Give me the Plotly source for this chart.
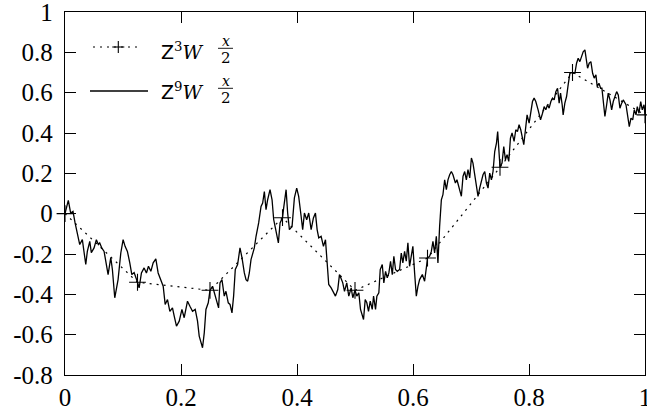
import plotly.graph_objects as go

# ---- data ----
coarse_x = [0, 0.125, 0.25, 0.375, 0.5, 0.625, 0.75, 0.875, 1.0]
coarse_y = [0, -0.34, -0.38, -0.02, -0.38, -0.22, 0.23, 0.70, 0.49]

fine_x = [
    0, 0.0057, 0.0098, 0.0138, 0.0173, 0.0212, 0.0254, 0.0299, 0.0328, 0.0358,
    0.0385, 0.0427, 0.0454, 0.0501, 0.0541, 0.0575, 0.0599, 0.0634, 0.0674, 0.0703,
    0.0743, 0.0789, 0.0817, 0.0858, 0.0915, 0.0962, 0.1002, 0.1036, 0.1076, 0.1117,
    0.1152, 0.1192, 0.1231, 0.125,
    0.1278, 0.1318, 0.1364, 0.1404, 0.1439, 0.1480, 0.1520, 0.1566, 0.1606, 0.1653,
    0.1693, 0.1727, 0.1767, 0.1808, 0.1853, 0.1883, 0.1922, 0.1969, 0.2016, 0.2055,
    0.2112, 0.2154, 0.2199, 0.2245, 0.2285, 0.2314, 0.2344, 0.2371, 0.2401, 0.2430,
    0.2470, 0.25,
    0.2544, 0.2591, 0.2648, 0.2672, 0.2706, 0.2746, 0.2775, 0.2815, 0.2845, 0.2879,
    0.2907, 0.2936, 0.2976, 0.3017, 0.3052, 0.3092, 0.3121, 0.3149, 0.3178, 0.3207,
    0.3235, 0.3264, 0.3294, 0.3339, 0.3380, 0.3408, 0.3437, 0.3466, 0.3494, 0.3535,
    0.3570, 0.3598, 0.3627, 0.3649, 0.3679, 0.3708, 0.375,
    0.3770, 0.3812, 0.3839, 0.3869, 0.3915, 0.3955, 0.3995, 0.4029, 0.4071, 0.4098,
    0.4128, 0.4167, 0.4202, 0.4244, 0.4283, 0.4318, 0.4347, 0.4375, 0.4416, 0.4456,
    0.4491, 0.4520, 0.4547, 0.4589, 0.4629, 0.4663, 0.4703, 0.4732, 0.4767, 0.4789,
    0.4819, 0.4858, 0.4893, 0.4934, 0.4962, 0.5,
    0.5031, 0.5066, 0.5095, 0.5124, 0.5147, 0.5176, 0.5204, 0.5233, 0.5263, 0.5297,
    0.5320, 0.5354, 0.5377, 0.5411, 0.5435, 0.5470, 0.5497, 0.5527, 0.5556, 0.5584,
    0.5613, 0.5643, 0.5670, 0.5699, 0.5729, 0.5769, 0.5798, 0.5825, 0.5855, 0.5884,
    0.5912, 0.5941, 0.5971, 0.5998, 0.6028, 0.6057, 0.6085, 0.6114, 0.6161, 0.6200,
    0.6230, 0.625,
    0.6287, 0.6316, 0.6344, 0.6373, 0.6402, 0.6430, 0.6459, 0.6489, 0.6516, 0.6546,
    0.6575, 0.6603, 0.6632, 0.6661, 0.6689, 0.6731, 0.6758, 0.6793, 0.6834, 0.6862,
    0.6891, 0.6920, 0.6948, 0.6978, 0.7007, 0.7034, 0.7064, 0.7093, 0.7121, 0.7150,
    0.7180, 0.7207, 0.7237, 0.7266, 0.7294, 0.7323, 0.7352, 0.7380, 0.7409, 0.7439,
    0.7460, 0.7480, 0.75,
    0.7535, 0.7565, 0.7594, 0.7622, 0.7651, 0.7680, 0.7708, 0.7743, 0.7772, 0.7801,
    0.7829, 0.7858, 0.7910, 0.7945, 0.7967, 0.8002, 0.8031, 0.8060, 0.8088, 0.8117,
    0.8157, 0.8199, 0.8233, 0.8261, 0.8290, 0.8320, 0.8347, 0.8377, 0.8406, 0.8434,
    0.8463, 0.8492, 0.8520, 0.8544, 0.8572, 0.8589, 0.8618, 0.8648, 0.8675, 0.8705,
    0.875,
    0.8791, 0.8820, 0.8848, 0.8877, 0.8907, 0.8934, 0.8964, 0.8981, 0.9010, 0.9038,
    0.9067, 0.9097, 0.9124, 0.9154, 0.9176, 0.9206, 0.9235, 0.9257, 0.9280, 0.9309,
    0.9339, 0.9366, 0.9396, 0.9425, 0.9453, 0.9482, 0.9511, 0.9539, 0.9568, 0.9598,
    0.9625, 0.9672, 0.9701, 0.9729, 0.9758, 0.9788, 0.9815, 0.9845, 0.9867, 0.9896,
    0.9926, 0.9953, 0.9983, 1.0,
]
fine_y = [
    0, 0.066, 0.003, 0.011, -0.045, -0.094, -0.153, -0.129, -0.187, -0.252,
    -0.187, -0.137, -0.193, -0.170, -0.129, -0.153, -0.145, -0.170, -0.187, -0.228,
    -0.302, -0.218, -0.277, -0.417, -0.327, -0.195, -0.129, -0.162, -0.187, -0.244,
    -0.302, -0.292, -0.318, -0.34,
    -0.368, -0.294, -0.269, -0.294, -0.261, -0.286, -0.244, -0.224, -0.294, -0.327,
    -0.360, -0.450, -0.426, -0.484, -0.467, -0.508, -0.558, -0.533, -0.475, -0.516,
    -0.434, -0.459, -0.484, -0.475, -0.533, -0.607, -0.632, -0.665, -0.591, -0.475,
    -0.442, -0.38,
    -0.360, -0.409, -0.467, -0.343, -0.327, -0.409, -0.385, -0.442, -0.450, -0.492,
    -0.409, -0.277, -0.252, -0.170, -0.219, -0.294, -0.327, -0.335, -0.294, -0.228,
    -0.195, -0.170, -0.112, -0.046, 0.036, 0.053, 0.110, 0.020, 0.069, 0.119,
    0.069, -0.029, -0.071, -0.096, -0.145, -0.046, -0.02,
    0.028, 0.119, 0.003, -0.079, -0.063, 0.078, 0.127, 0.086, -0.013, -0.079,
    0.003, -0.030, 0.003, -0.079, -0.021, 0.003, -0.079, -0.120, -0.112, -0.162,
    -0.129, -0.244, -0.351, -0.368, -0.393, -0.409, -0.376, -0.302, -0.327, -0.343,
    -0.385, -0.343, -0.409, -0.368, -0.417, -0.38,
    -0.409, -0.393, -0.475, -0.500, -0.525, -0.426, -0.442, -0.484, -0.434, -0.475,
    -0.409, -0.475, -0.409, -0.393, -0.277, -0.252, -0.343, -0.286, -0.318, -0.294,
    -0.236, -0.302, -0.211, -0.277, -0.286, -0.277, -0.195, -0.244, -0.187, -0.236,
    -0.145, -0.261, -0.195, -0.162, -0.294, -0.409, -0.360, -0.327, -0.302, -0.335,
    -0.269, -0.22,
    -0.211, -0.187, -0.137, -0.195, -0.112, -0.244, -0.063, 0.069, 0.094, 0.168,
    0.119, 0.168, 0.193, 0.209, 0.193, 0.152, 0.168, 0.127, 0.086, 0.185,
    0.209, 0.168, 0.218, 0.177, 0.276, 0.251, 0.193, 0.144, 0.086, 0.127,
    0.160, 0.193, 0.209, 0.152, 0.127, 0.201, 0.168, 0.209, 0.308, 0.350,
    0.407, 0.330, 0.23,
    0.251, 0.333, 0.267, 0.292, 0.259, 0.375, 0.400, 0.358, 0.416, 0.407,
    0.441, 0.416, 0.342, 0.416, 0.490, 0.449, 0.498, 0.556, 0.573, 0.556,
    0.515, 0.465, 0.498, 0.531, 0.515, 0.540, 0.523, 0.556, 0.573, 0.564,
    0.605, 0.622, 0.548, 0.598, 0.540, 0.490, 0.548, 0.581, 0.639, 0.696,
    0.70,
    0.696, 0.746, 0.771, 0.754, 0.787, 0.803, 0.812, 0.779, 0.721, 0.746,
    0.754, 0.696, 0.672, 0.688, 0.630, 0.647, 0.622, 0.622, 0.556, 0.482,
    0.540, 0.598, 0.564, 0.515, 0.556, 0.581, 0.605, 0.589, 0.523, 0.548,
    0.564, 0.540, 0.482, 0.432, 0.474, 0.465, 0.515, 0.490, 0.531, 0.498,
    0.556, 0.515, 0.540, 0.49,
]
assert len(fine_x) == len(fine_y)

x_ticks = [0, 0.2, 0.4, 0.6, 0.8, 1.0]
x_labels = ["0", "0.2", "0.4", "0.6", "0.8", "1"]
y_ticks = [-0.8, -0.6, -0.4, -0.2, 0, 0.2, 0.4, 0.6, 0.8, 1.0]
y_labels = ["-0.8", "-0.6", "-0.4", "-0.2", "0", "0.2", "0.4", "0.6", "0.8", "1"]

legend_names = ["3", "9"]

# ---- layout geometry (pixels) ----
W, H = 647, 412
L, R, T, B = 65, 2, 12, 37
PW, PH = W - L - R, H - T - B
def pxx(p):
    return (p - L) / PW
def pxy(p):
    return (H - B - p) / PH

TICKFONT = "Liberation Serif, serif"
SERIF = "DejaVu Serif, serif"
DOT = "2px,5px"

fig = go.Figure()
fig.add_trace(go.Scatter(
    x=coarse_x, y=coarse_y, mode="lines+markers",
    line=dict(color="black", width=1.2, dash=DOT),
    marker=dict(symbol="cross-thin", size=12, color="black",
                line=dict(width=1.1, color="black")),
    cliponaxis=False, showlegend=False))
fig.add_trace(go.Scatter(
    x=fine_x, y=fine_y, mode="lines",
    line=dict(color="black", width=1.3),
    showlegend=False))

axis_common = dict(
    ticks="inside", ticklen=11, tickwidth=1.1, tickcolor="black",
    showline=True, linewidth=1.3, linecolor="black", mirror="ticks",
    showgrid=False, zeroline=False, ticklabeloverflow="allow",
    automargin=False,
    tickfont=dict(family=TICKFONT, size=25, color="black"),
)
fig.update_xaxes(range=[0, 1], tickvals=x_ticks, ticktext=x_labels,
                 ticklabelstandoff=0, **axis_common)
fig.update_yaxes(range=[-0.8, 1], tickvals=y_ticks, ticktext=y_labels,
                 ticklabelstandoff=6, **axis_common)

shapes = []
annotations = []
rows = [
    dict(sample_y=47, text_y=51.7, dotted=True),
    dict(sample_y=91, text_y=91.7, dotted=False),
]
for name, row in zip(legend_names, rows):
    sy = row["sample_y"]
    if row["dotted"]:
        shapes.append(dict(type="line", xref="paper", yref="paper",
                           x0=pxx(93), x1=pxx(141), y0=pxy(sy), y1=pxy(sy),
                           line=dict(color="black", width=1.2, dash=DOT)))
        shapes.append(dict(type="line", xref="paper", yref="paper",
                           x0=pxx(112.3), x1=pxx(124.3), y0=pxy(sy), y1=pxy(sy),
                           line=dict(color="black", width=1.1)))
        shapes.append(dict(type="line", xref="paper", yref="paper",
                           x0=pxx(118.3), x1=pxx(118.3), y0=pxy(sy - 6), y1=pxy(sy + 6),
                           line=dict(color="black", width=1.1)))
    else:
        shapes.append(dict(type="line", xref="paper", yref="paper",
                           x0=pxx(90), x1=pxx(148), y0=pxy(sy), y1=pxy(sy),
                           line=dict(color="black", width=1.3)))
    ty = row["text_y"]
    annotations.append(dict(
        xref="paper", yref="paper", x=pxx(159), y=pxy(ty - 1),
        xanchor="left", yanchor="middle", showarrow=False,
        text='<span style="font-family:DejaVu Sans;font-size:19px">Z</span><sup>' + name + '</sup><i>W</i>',
        font=dict(family=SERIF, size=19, color="black")))
    # fraction x / 2
    annotations.append(dict(
        xref="paper", yref="paper", x=pxx(225.5), y=pxy(ty - 10.5),
        xanchor="center", yanchor="middle", showarrow=False,
        text="<i>x</i>", font=dict(family=SERIF, size=14, color="black")))
    annotations.append(dict(
        xref="paper", yref="paper", x=pxx(225.5), y=pxy(ty + 6.5),
        xanchor="center", yanchor="middle", showarrow=False,
        text="2", font=dict(family=SERIF, size=15, color="black")))
    shapes.append(dict(type="line", xref="paper", yref="paper",
                       x0=pxx(218), x1=pxx(233), y0=pxy(ty - 3.4), y1=pxy(ty - 3.4),
                       line=dict(color="black", width=0.9)))

fig.update_layout(
    width=W, height=H, autosize=False,
    margin=dict(l=L, r=R, t=T, b=B),
    paper_bgcolor="white", plot_bgcolor="white",
    shapes=shapes, annotations=annotations,
    showlegend=False,
)

fig.write_html("out.html", config={"displayModeBar": False, "responsive": False},
               post_script="document.body.style.margin='0px';")
